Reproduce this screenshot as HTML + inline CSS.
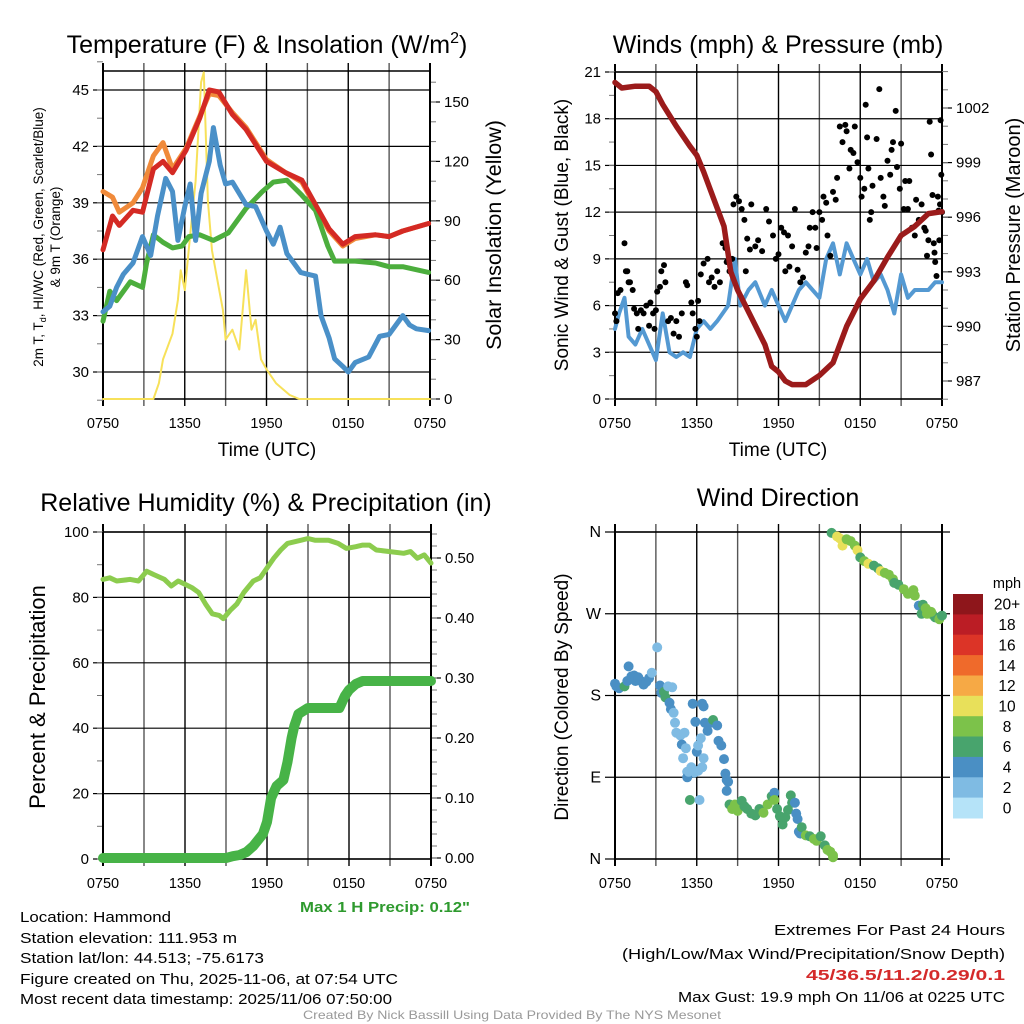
<!DOCTYPE html>
<html><head><meta charset="utf-8"><style>
html,body{margin:0;padding:0;background:#fff;width:1024px;height:1024px;overflow:hidden}
svg text{font-family:"Liberation Sans",sans-serif;fill:#000}
</style></head><body>
<svg id="s" width="1024" height="1024" viewBox="0 0 1024 1024" xmlns="http://www.w3.org/2000/svg">
<rect x="0" y="0" width="1024" height="1024" fill="#fff"/>
<text x="267" y="53" font-size="25" text-anchor="middle">Temperature (F) &amp; Insolation (W/m<tspan font-size="16" dy="-10">2</tspan><tspan dy="10">)</tspan></text>
<text x="778" y="53" font-size="25" text-anchor="middle">Winds (mph) &amp; Pressure (mb)</text>
<text x="266" y="511" font-size="25" text-anchor="middle">Relative Humidity (%) &amp; Precipitation (in)</text>
<text x="778" y="506" font-size="25" text-anchor="middle">Wind Direction</text>

<text transform="translate(43,237) rotate(-90)" font-size="13.5" text-anchor="middle">2m T, T<tspan font-size="9" dy="3">d</tspan><tspan dy="-3">, HI/WC (Red, Green, Scarlet/Blue)</tspan></text>
<text transform="translate(60,237) rotate(-90)" font-size="13.5" text-anchor="middle">&amp; 9m T (Orange)</text>
<text transform="translate(501,235) rotate(-90)" font-size="21.5" text-anchor="middle">Solar Insolation (Yellow)</text>
<text transform="translate(568,235) rotate(-90)" font-size="19" text-anchor="middle">Sonic Wind &amp; Gust (Blue, Black)</text>
<text transform="translate(1020,235) rotate(-90)" font-size="20" text-anchor="middle">Station Pressure (Maroon)</text>
<text transform="translate(45,697) rotate(-90)" font-size="22" text-anchor="middle">Percent &amp; Precipitation</text>
<text transform="translate(568,697) rotate(-90)" font-size="19" text-anchor="middle">Direction (Colored By Speed)</text>
<text x="267" y="456" font-size="19" text-anchor="middle">Time (UTC)</text>
<text x="778" y="456" font-size="19" text-anchor="middle">Time (UTC)</text>

<text x="300" y="912" font-size="15" font-weight="bold" fill="#2e9a2e" style="fill:#2e9a2e" textLength="170" lengthAdjust="spacingAndGlyphs">Max 1 H Precip: 0.12"</text>
<g font-size="15">
<text x="20" y="922" textLength="151" lengthAdjust="spacingAndGlyphs">Location: Hammond</text>
<text x="20" y="943" textLength="217" lengthAdjust="spacingAndGlyphs">Station elevation: 111.953 m</text>
<text x="20" y="963" textLength="244" lengthAdjust="spacingAndGlyphs">Station lat/lon: 44.513; -75.6173</text>
<text x="20" y="984" textLength="378" lengthAdjust="spacingAndGlyphs">Figure created on Thu, 2025-11-06, at 07:54 UTC</text>
<text x="20" y="1004" textLength="372" lengthAdjust="spacingAndGlyphs">Most recent data timestamp: 2025/11/06 07:50:00</text>
</g>
<g font-size="15" text-anchor="end">
<text x="1005" y="935" textLength="231" lengthAdjust="spacingAndGlyphs">Extremes For Past 24 Hours</text>
<text x="1005" y="959" textLength="383" lengthAdjust="spacingAndGlyphs">(High/Low/Max Wind/Precipitation/Snow Depth)</text>
<text x="1005" y="980" font-weight="bold" style="fill:#d42a2a" textLength="199" lengthAdjust="spacingAndGlyphs">45/36.5/11.2/0.29/0.1</text>
<text x="1005" y="1002" textLength="327" lengthAdjust="spacingAndGlyphs">Max Gust: 19.9 mph On 11/06 at 0225 UTC</text>
</g>
<text x="512" y="1019" font-size="12" text-anchor="middle" style="fill:#999" textLength="418" lengthAdjust="spacingAndGlyphs">Created By Nick Bassill Using Data Provided By The NYS Mesonet</text>
</svg>
<script>
// ---------- data ----------
const xTickLabels=["0750","1350","1950","0150","0750"];
// temperature panel (hours since 0750 UTC)
const redT=[0,0.7,1.2,2.2,2.9,3.7,4.4,5.1,6.1,7.1,7.8,8.5,9.5,10.5,12,13.4,14.6,15.6,16.6,17.6,18.5,20,21,22,23.9];
const redV=[36.5,38.3,37.8,38.6,38.5,40.8,41.2,40.6,41.8,43.5,45,44.9,43.7,42.9,41.2,40.6,40.2,38.9,37.6,36.8,37.2,37.3,37.2,37.5,37.9];
const orangeT=[0,0.7,1.2,2.2,2.9,3.7,4.4,5.1,6.1,7.1,7.8,8.5,9.5,10.5,12,13.4,14.6,15.6,16.6,17.6,18.5,20,21,22,23.9];
const orangeV=[39.6,39.3,38.5,39.0,39.8,41.5,42.2,40.8,41.9,43.6,44.8,44.7,43.8,43.0,41.3,40.6,40.1,38.8,37.5,36.7,37.1,37.3,37.2,37.5,37.9];
const greenT=[0,0.5,1,2,2.9,3.2,3.7,4.4,5.1,5.8,6.3,7.1,8.1,9.2,10.5,11.7,12.5,13.5,14.6,15.6,16.5,17,18.5,20,21,22,23.9];
const greenV=[32.7,34.3,33.8,34.8,34.5,35.8,37.3,36.9,36.6,36.7,37.2,37.3,37.0,37.4,38.7,39.6,40.1,40.2,39.4,38.6,36.7,35.9,35.9,35.8,35.6,35.6,35.3];
const blueT=[0,0.5,1,1.5,2.2,2.9,3.5,4,4.6,5.1,5.5,6,6.4,6.8,7.2,7.8,8.1,8.6,9,9.5,10,10.5,11.2,12,12.5,13,13.5,14,14.5,15,15.6,16,16.6,17,17.6,18,18.5,19.5,20.3,21,22,22.5,23,23.9];
const blueV=[33.2,33.5,34.5,35.2,35.8,37.2,36.2,38.3,40.3,39.6,37.0,38.8,40.0,37.0,39.5,41.2,43.0,41.0,40.0,40.1,39.5,38.9,38.8,37.5,36.8,37.7,36.3,35.8,35.3,35.2,35.1,33.0,31.8,30.7,30.3,30.0,30.5,30.8,31.9,32.0,33.0,32.5,32.3,32.2];
const solarT=[0,3.7,4.1,4.4,5.1,5.5,5.7,6.0,6.5,6.8,7.2,7.4,7.7,8,8.4,8.8,9,9.5,10,10.5,10.9,11.2,11.6,12,12.7,13.7,14.4,24];
const solarV=[0,0,8,20,33,50,65,55,90,110,160,165,100,75,60,45,30,35,25,65,35,40,20,15,8,2,0,0];
// winds panel
const windT=[0,0.3,0.7,1,1.5,2,2.5,3,3.5,4,4.5,5,5.5,6,6.5,7,7.5,8.3,8.8,9.2,9.8,10.3,11,11.5,12,12.5,13,13.5,14,14.5,15,15.5,16,16.5,17,17.5,18,18.5,19,19.5,20,20.5,21,21.5,22,23,23.5,24];
const windV=[4.5,5.5,6.5,4,3.5,4.5,3.5,2.5,5.5,3,2.7,3.0,2.7,4.5,5,4.5,5,6,9,6,7,7.5,6,7,6,5,6,7,7.5,7,6.5,9,10,8,10,9,8,9,7.5,8,7,5.5,8,6.5,7,7,7.5,7.5];
const pressT=[0,0.5,1.5,2.5,3,3.5,4.5,5.5,6,6.5,7,8,8.5,9,10,11,11.5,12,12.5,13,14,15,16,17,18,19,20,21,22,23,24];
const pressV=[1003.4,1003.1,1003.2,1003.2,1002.9,1002.2,1001.0,999.9,999.4,998.5,997.5,995.5,993.0,992.0,990.5,989,987.8,987.5,987.0,986.8,986.8,987.3,988.0,990,991.5,992.5,993.8,995.0,995.5,996.2,996.3];
const gustT=[0,0.1,0.2,0.4,0.7,0.8,0.9,1.0,1.1,1.3,1.4,1.6,1.7,1.9,2.1,2.3,2.5,2.6,2.8,2.9,3.0,3.1,3.3,3.4,3.6,3.7,3.9,4.1,4.3,4.5,4.7,4.9,5.2,5.3,5.6,5.7,5.9,6.0,6.1,6.2,6.3,6.5,6.8,6.9,7.1,7.3,7.5,7.7,7.9,8.1,8.2,8.4,8.6,8.7,8.9,9.1,9.3,9.5,9.6,9.7,9.9,10.0,10.3,10.5,10.8,11.1,11.3,11.6,11.8,12.0,12.2,12.4,12.5,12.7,12.8,13.0,13.2,13.4,13.6,13.8,14.0,14.2,14.3,14.5,14.7,14.8,15.0,15.2,15.3,15.5,15.6,15.8,16.0,16.2,16.3,16.5,16.7,16.9,17.0,17.2,17.3,17.5,17.6,17.8,18.0,18.1,18.3,18.4,18.5,18.6,18.7,18.8,18.9,19.2,19.4,19.5,19.7,19.8,20.0,20.2,20.3,20.4,20.6,20.7,20.9,21.0,21.2,21.3,21.5,21.6,21.8,22.0,22.1,22.3,22.5,22.7,22.8,22.9,23.0,23.1,23.2,23.3,23.4,23.45,23.5,23.6,23.7,23.75,23.8,23.85,23.9,23.95,24.0];
const gustV=[5.5,5.0,6.8,7.0,10.0,8.2,8.2,7.5,7.5,7.0,5.8,5.5,4.5,5.7,5.5,6.0,4.7,6.2,5.5,4.5,5.7,6.9,7.2,8.2,8.6,7.5,5.0,5.2,4.2,5.0,4.0,5.5,7.5,7.3,6.2,5.5,4.5,4.0,6.3,5.0,8.0,8.7,9.0,7.5,7.8,7.2,8.2,7.5,10.0,9.7,8.8,8.2,9.0,12.5,13.0,12.7,12.2,11.5,8.2,10.3,9.6,12.5,9.8,10.2,9.5,12.2,11.4,10.5,9.0,9.3,11.0,10.7,8.2,10.5,8.5,9.8,12.2,8.3,7.5,7.8,9.4,9.8,11.0,12.0,11.0,9.7,12.0,11.5,13.0,12.6,10.5,9.2,13.3,12.8,14.2,17.5,16.5,17.6,17.2,14.8,16.0,15.8,17.5,15.2,14.2,13.0,13.5,18.9,16.8,14.8,11.5,12.0,13.7,16.7,19.9,14.2,13.0,12.4,15.3,14.4,16.0,16.5,18.5,14.9,13.5,16.4,12.2,14.0,12.2,14.0,11.0,10.5,12.8,11.5,12.5,11.0,10.8,9.2,10.2,17.8,15.7,13.1,10.0,9.4,8.8,7.9,13.0,12.1,10.2,12.5,17.9,14.4,12.0,13.7];
// humidity panel
const rhT=[0,0.5,1,2,2.6,3.2,3.7,4.5,5,5.5,6,6.5,7,7.5,8,8.5,8.8,9.3,9.8,10.3,11,11.5,12,12.5,13,13.5,14.5,15,15.5,16.5,17.2,17.8,18.5,19,19.5,20,21,22,22.5,23,23.5,24];
const rhV=[85.5,86,85,85.5,85,88,87,85.5,83.5,85,84,83,81.5,78,75,74.5,73.5,76,78,81.5,85,86,89,92,94.5,96.5,97.5,98,97.5,97.5,96.5,95,95.5,96,96,94.5,94,93.5,94,92,93,90.5];
const precipT=[0,9,9.5,10,10.5,11,11.7,12,12.3,12.7,13.2,13.5,13.8,14,14.3,15,17.3,17.7,18,18.5,19,24];
const precipV=[0,0,0.003,0.005,0.01,0.02,0.04,0.06,0.1,0.12,0.13,0.16,0.2,0.22,0.24,0.25,0.25,0.27,0.28,0.29,0.295,0.295];
// wind direction panel
const dirT=[0,0.1,0.3,0.7,0.9,1.0,1.2,1.4,1.5,1.7,1.9,2.1,2.3,2.5,2.7,3.1,3.3,3.4,3.6,3.7,3.9,4.2,4.0,4.1,4.3,4.4,4.5,4.8,4.9,5.0,5.1,5.2,5.3,5.6,5.7,5.9,6.0,6.1,6.3,6.4,6.5,5.8,5.3,5.4,5.5,6.1,6.2,6.4,6.5,6.6,6.8,7.0,7.2,7.5,7.6,7.8,8.0,8.1,8.2,8.3,8.2,8.4,8.6,8.8,8.9,9.0,9.3,9.5,9.7,10,10.3,10.6,10.9,11.2,11.5,11.7,11.7,11.9,12.1,12.3,12.5,12.7,12.9,13.0,13.2,13.3,13.4,13.5,13.6,13.7,14.0,14.3,14.6,14.8,15.1,15.4,15.6,15.8,16.0,16.0,15.9,16.3,16.5,16.7,17.0,17.3,17.6,17.8,18.0,18.3,18.6,19.0,19.3,19.5,19.8,20.1,20.4,20.5,20.8,21.2,21.5,21.9,22.0,22.3,22.6,22.5,22.9,23.3,23.5,23.8,24.0,23.2,22.8];
const dirV=[193,190,188,190,196,212,201,202,196,200,196,192,195,199,205,233,191,183,184,178,190,189,172,165,161,150,139,136,126,111,139,122,96,101,171,151,118,125,133,101,111,95,90,96,65,97,65,171,168,150,141,150,153,147,130,125,110,94,87,85,75,60,55,60,57,53,64,58,55,50,48,55,51,60,69,73,65,55,47,38,46,54,70,62,62,50,44,30,28,35,26,25,22,20,25,15,10,8,4,2,359,355,353,345,352,350,345,340,332,328,325,323,320,317,315,313,308,304,302,297,292,296,290,279,280,270,270,269,266,264,268,272,276];
const dirSpeed=[4,4,4,6,4,4,4,4,4,4,4,4,4,4,2,2,4,4,6,6,2,2,4,4,2,2,2,2,4,2,2,2,2,2,4,4,4,2,2,2,2,2,4,2,6,2,2,4,4,4,4,4,6,4,4,4,4,4,4,4,4,6,8,8,8,8,6,6,6,6,6,6,8,8,6,4,8,6,6,6,6,6,6,6,4,4,4,4,4,6,8,6,8,8,6,6,8,8,8,8,6,10,10,10,8,8,8,10,6,8,10,6,6,10,8,8,8,6,6,8,8,8,8,4,6,6,8,8,6,8,6,8,8];
const speedLevels=[0,2,4,6,8,10,12,14,16,18,20];
const speedLabels=["0","2","4","6","8","10","12","14","16","18","20+"];
const speedColors=["#b5e3f8","#7fbbe3","#4a8fc4","#48a46d","#7cc24a","#e8e05a","#f6a945","#ef6a2b","#dc3427","#bb1d25","#8e161b"];

// ---------- helpers ----------
const NS="http://www.w3.org/2000/svg";
const svg=document.getElementById('s');
function mk(tag,attrs,parent){const e=document.createElementNS(NS,tag);for(const k in attrs)e.setAttribute(k,attrs[k]);(parent||svg).appendChild(e);return e;}
function linScale(d0,d1,r0,r1){return v=>r0+(v-d0)*(r1-r0)/(d1-d0);}
function panelFrame(name,L,R,T,B,xs){
  const g=mk('g',{});
  
  
  for(let h=0;h<=24;h+=3){
    const x=xs(h);
    const gl=mk('line',{x1:x,y1:T-8,x2:x,y2:B+7,stroke:(h%6===0)?'#000':'#555','stroke-width':(h===0||h===24)?2:1.4},g);
    
    
  }
  for(let i=0;i<xTickLabels.length;i++){
    const t=mk('text',{x:xs(i*6),y:B+29,'font-size':14.5,'text-anchor':'middle'},g);
    t.textContent=xTickLabels[i];
    
    
  }
  mk('line',{x1:L,y1:T,x2:R,y2:T,stroke:'#000','stroke-width':1.5},g);
  mk('line',{x1:L,y1:B,x2:R,y2:B,stroke:'#000','stroke-width':1.5},g);
  return g;
}
function yAxis(name,xEdge,side,ys,ticks,labels,minors,gridL,gridR,fs){
  const g=mk('g',{});
  
  
  const dir=side==='left'?-1:1;
  ticks.forEach((v,i)=>{
    const y=ys(v);
    if(gridL!==null){const l=mk('line',{x1:gridL,y1:y,x2:gridR,y2:y,stroke:'#000','stroke-width':1.2},g);
      
      }
    mk('line',{x1:xEdge,y1:y,x2:xEdge+dir*10,y2:y,stroke:'#000','stroke-width':1.2},g);
    const t=mk('text',{x:xEdge+dir*14,y:y+5,'font-size':fs||15,'text-anchor':side==='left'?'end':'start'},g);
    t.textContent=labels[i];
    
    
  });
  minors.forEach(v=>{const y=ys(v);mk('line',{x1:xEdge,y1:y,x2:xEdge+dir*6,y2:y,stroke:'#777','stroke-width':1},g);});
  mk('line',{x1:xEdge,y1:ys.top,x2:xEdge,y2:ys.bot,stroke:'#000','stroke-width':2},g);
}
function path(T,V,xs,ys,color,w,name){
  let d='';T.forEach((t,i)=>{d+=(i?'L':'M')+xs(t).toFixed(1)+' '+ys(V[i]).toFixed(1);});
  const p=mk('path',{d:d,fill:'none',stroke:color,'stroke-width':w,'stroke-linejoin':'round','stroke-linecap':'round'});
  
  
  return p;
}
function range(a,b,s){const r=[];for(let v=a;v<=b+1e-9;v+=s)r.push(+v.toFixed(4));return r;}

// ---------- panel 1: temperature ----------
{
  const L=103,R=430,T=71,B=399;
  const xs=linScale(0,24,L,R);
  const yl=linScale(30,45,372,90); yl.top=T; yl.bot=B;
  const yr=linScale(0,150,399,102); yr.top=T; yr.bot=B;
  panelFrame('temperature',L,R,T,B,xs);
  yAxis('temperature-y-axis',L,'left',yl,[30,33,36,39,42,45],["30","33","36","39","42","45"],range(28.5,46.5,1.5),L,R);
  yAxis('insolation-y-axis',R,'right',yr,[0,30,60,90,120,150],["0","30","60","90","120","150"],range(0,160,10),null,null);
  path(solarT,solarV,xs,yr,'#f7e15a',2,'solar-insolation-line');
  path(orangeT,orangeV,xs,yl,'#f08a3a',5,'9m-temperature-line');
  path(greenT,greenV,xs,yl,'#4cae3d',5,'dewpoint-line');
  path(blueT,blueV,xs,yl,'#4a90c8',5,'wind-chill-line');
  path(redT,redV,xs,yl,'#d42a24',5,'2m-temperature-line');
}
// ---------- panel 2: winds ----------
{
  const L=615,R=942,T=72,B=399;
  const xs=linScale(0,24,L,R);
  const yl=linScale(0,21,B,T); yl.top=T; yl.bot=B;
  const yr=linScale(987,1002,381,108); yr.top=T; yr.bot=B;
  panelFrame('winds',L,R,T,B,xs);
  yAxis('wind-y-axis',L,'left',yl,[0,3,6,9,12,15,18,21],["0","3","6","9","12","15","18","21"],range(0,21,1.5),L,R);
  yAxis('pressure-y-axis',R,'right',yr,[987,990,993,996,999,1002],["987","990","993","996","999","1002"],range(986,1004,1),null,null);
  path(windT,windV,xs,yl,'#5499d2',4,'sonic-wind-line');
  gustT.forEach((t,i)=>{
    const c=mk('circle',{cx:xs(t).toFixed(1),cy:yl(gustV[i]).toFixed(1),r:3,fill:'#000'});
    
    
  });
  path(pressT,pressV,xs,yr,'#9b1b1b',5.5,'station-pressure-line');
}
// ---------- panel 3: humidity ----------
{
  const L=103,R=431,T=532,B=859;
  const xs=linScale(0,24,L,R);
  const yl=linScale(0,100,B,T); yl.top=T; yl.bot=B;
  const yr=linScale(0,0.5,858,558); yr.top=T; yr.bot=B;
  panelFrame('humidity',L,R,T,B,xs);
  yAxis('humidity-y-axis',L,'left',yl,[0,20,40,60,80,100],["0","20","40","60","80","100"],range(0,100,10),L,R);
  yAxis('precip-y-axis',R,'right',yr,[0,0.1,0.2,0.3,0.4,0.5],["0.00","0.10","0.20","0.30","0.40","0.50"],range(0,0.54,0.02),null,null);
  path(rhT,rhV,xs,yl,'#8ccc4e',5,'relative-humidity-line');
  path(precipT,precipV,xs,yr,'#47b347',10,'precipitation-line');
}
// ---------- panel 4: wind direction ----------
{
  const L=615,R=942,T=532,B=859;
  const xs=linScale(0,24,L,R);
  const yl=linScale(0,360,B,T); yl.top=T; yl.bot=B;
  panelFrame('wind-direction',L,R,T,B,xs);
  yAxis('direction-y-axis',L,'left',yl,[0,90,180,270,360],["N","E","S","W","N"],[],L,R+8,16);
  dirT.forEach((t,i)=>{
    const ci=speedLevels.indexOf(dirSpeed[i]);
    const c=mk('circle',{cx:xs(t).toFixed(1),cy:yl(dirV[i]).toFixed(1),r:5,fill:speedColors[ci<0?0:ci]});
    
    
  });
  const lg=mk('g',{});
  
  
  const t0=mk('text',{x:1007,y:588,'font-size':14.5,'text-anchor':'middle'},lg);
  t0.textContent='mph';
  
  
  const bh=(818-594)/speedColors.length;
  for(let i=0;i<speedColors.length;i++){
    const k=speedColors.length-1-i;
    const y=594+i*bh;
    const r=mk('rect',{x:953,y:y.toFixed(1),width:30,height:(bh+0.5).toFixed(1),fill:speedColors[k]},lg);
    
    
    const t=mk('text',{x:1007,y:(y+bh/2+5.5).toFixed(1),'font-size':15.5,'text-anchor':'middle'},lg);
    t.textContent=speedLabels[k];
    
    
  }
}
</script>
</body></html>
